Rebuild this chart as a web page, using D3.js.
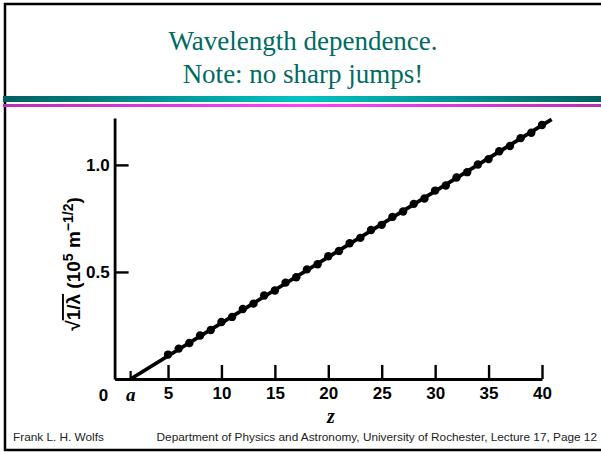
<!DOCTYPE html>
<html>
<head>
<meta charset="utf-8">
<script src="https://cdn.jsdelivr.net/npm/d3@7"></script>
<style>
  body { margin: 0; background: #fff; }
  svg { display: block; }
</style>
</head>
<body>
<div id="chart"></div>
<script>
// atomic number Z, one dot per element
const zValues = [5, 6, 7, 8, 9, 10, 11, 12, 13, 14, 15, 16, 17, 18, 19, 20, 21, 22,
  23, 24, 25, 26, 27, 28, 29, 30, 31, 32, 33, 34, 35, 36, 37, 38, 39, 40];
// sqrt(1/lambda) in 10^5 m^-1/2
const rootInvLambda = [0.114, 0.142, 0.168, 0.203, 0.229, 0.266, 0.290, 0.327, 0.352, 0.390,
  0.413, 0.450, 0.475, 0.512, 0.536, 0.573, 0.598, 0.634, 0.659, 0.696,
  0.720, 0.757, 0.782, 0.818, 0.843, 0.880, 0.904, 0.941, 0.966, 1.002,
  1.027, 1.064, 1.088, 1.125, 1.150, 1.186];
// fitted line, from Z = a up past 40
const fitZ = [1.5, 40.9];
const fitY = [0, 1.213];
const xTicks = [5, 10, 15, 20, 25, 30, 35, 40];
const yTicks = [0.5, 1.0];
const titleLines = ["Wavelength dependence.", "Note: no sharp jumps!"];

const width = 601, height = 452;
const svg = d3.select("#chart").append("svg")
  .attr("width", width).attr("height", height);

svg.append("rect").attr("width", width).attr("height", height).attr("fill", "#fff");

// slide frame
const frame = svg.append("g").attr("stroke", "#000").attr("stroke-width", 2.5);
frame.append("line").attr("x1", 5).attr("y1", 3).attr("x2", 5).attr("y2", 451);
frame.append("line").attr("x1", 4).attr("y1", 4).attr("x2", 601).attr("y2", 4);
frame.append("line").attr("x1", 4).attr("y1", 450).attr("x2", 601).attr("y2", 450);

const defs = svg.append("defs");
const g1 = defs.append("linearGradient").attr("id", "teal");
g1.append("stop").attr("offset", "0%").attr("stop-color", "#005f5f");
g1.append("stop").attr("offset", "50%").attr("stop-color", "#00c4c4");
g1.append("stop").attr("offset", "100%").attr("stop-color", "#005f5f");
const g2 = defs.append("linearGradient").attr("id", "pink");
g2.append("stop").attr("offset", "0%").attr("stop-color", "#b830b8");
g2.append("stop").attr("offset", "50%").attr("stop-color", "#ff40ff");
g2.append("stop").attr("offset", "100%").attr("stop-color", "#b830b8");

svg.append("rect").attr("x", 3).attr("y", 96).attr("width", 598).attr("height", 6).attr("fill", "url(#teal)");
svg.append("rect").attr("x", 3).attr("y", 104).attr("width", 598).attr("height", 3).attr("fill", "url(#pink)");

svg.selectAll(".title").data(titleLines).enter().append("text")
  .attr("class", "title")
  .attr("x", 303)
  .attr("y", (d, i) => 50 + i * 33)
  .attr("text-anchor", "middle")
  .style("font-family", "'Liberation Serif', 'Times New Roman', serif")
  .style("font-size", "27px")
  .attr("fill", "#006b62")
  .text(d => d);

// plot scales
const x = d3.scaleLinear().domain([0, 40]).range([114.6, 542]);
const y = d3.scaleLinear().domain([0, 1.219]).range([379, 118]);

const axisFont = "'Liberation Sans', Arial, sans-serif";

const xAxis = svg.append("g")
  .attr("transform", `translate(0,${y(0)})`)
  .call(d3.axisBottom(x).tickValues(xTicks).tickSize(-14).tickSizeOuter(0).tickPadding(8));
const yAxis = svg.append("g")
  .attr("transform", `translate(${x(0)},0)`)
  .call(d3.axisLeft(y).tickValues(yTicks).tickSize(-14).tickSizeOuter(0).tickFormat(d3.format(".1f")).tickPadding(8));

[xAxis, yAxis].forEach(a => {
  a.select(".domain").attr("stroke", "#000").attr("stroke-width", 2.8);
  a.selectAll(".tick line").attr("stroke", "#000").attr("stroke-width", 2.4);
  a.selectAll(".tick text")
    .attr("fill", "#000")
    .style("font-family", axisFont)
    .style("font-weight", "bold")
    .style("font-size", "17px");
});
yAxis.selectAll(".tick text").attr("dx", "3");

// extra tick for a, and the 0 label
const aTick = svg.append("g").attr("transform", `translate(${x(1.5)},${y(0)})`);
aTick.append("line").attr("y2", -8).attr("stroke", "#000").attr("stroke-width", 2.2);
aTick.append("text").attr("y", 22).attr("text-anchor", "middle")
  .style("font-family", "'Liberation Serif', serif")
  .style("font-style", "italic").style("font-weight", "bold").style("font-size", "19px")
  .text("a");
svg.append("text").attr("x", x(0) - 11).attr("y", y(0) + 22).attr("text-anchor", "middle")
  .style("font-family", axisFont).style("font-weight", "bold").style("font-size", "17px")
  .text("0");

// fit line
svg.append("path")
  .datum(fitZ.map((z, i) => [z, fitY[i]]))
  .attr("d", d3.line().x(d => x(d[0])).y(d => y(d[1])))
  .attr("stroke", "#000").attr("stroke-width", 3.8).attr("fill", "none");

svg.selectAll(".dot").data(zValues).enter().append("circle")
  .attr("class", "dot")
  .attr("cx", d => x(d))
  .attr("cy", (d, i) => y(rootInvLambda[i]))
  .attr("r", 4.2)
  .attr("fill", "#000");

// axis titles
svg.append("text")
  .attr("x", 331).attr("y", 423)
  .attr("text-anchor", "middle")
  .style("font-family", "'Liberation Serif', serif")
  .style("font-style", "italic").style("font-weight", "bold").style("font-size", "20px")
  .text("z");

const yl = svg.append("text")
  .attr("transform", "translate(80,264) rotate(-90)")
  .attr("text-anchor", "middle")
  .style("font-family", axisFont).style("font-weight", "bold").style("font-size", "19px");
yl.append("tspan").text("\u221A");
yl.append("tspan").style("text-decoration", "overline").text("1/\u03BB");
yl.append("tspan").text(" (10");
yl.append("tspan").attr("dy", -7).style("font-size", "14px").text("5");
yl.append("tspan").attr("dy", 7).text(" m");
yl.append("tspan").attr("dy", -7).style("font-size", "14px").text("\u22121/2");
yl.append("tspan").attr("dy", 7).text(")");

// footer
const footFont = "'Liberation Sans', Arial, sans-serif";
svg.append("text").attr("x", 13).attr("y", 441)
  .style("font-family", footFont).style("font-size", "11.8px").attr("fill", "#222")
  .text("Frank L. H. Wolfs");
svg.append("text").attr("x", 597).attr("y", 441).attr("text-anchor", "end")
  .style("font-family", footFont).style("font-size", "11.8px").attr("fill", "#222")
  .text("Department of Physics and Astronomy, University of Rochester, Lecture 17, Page 12");
</script>
</body>
</html>
